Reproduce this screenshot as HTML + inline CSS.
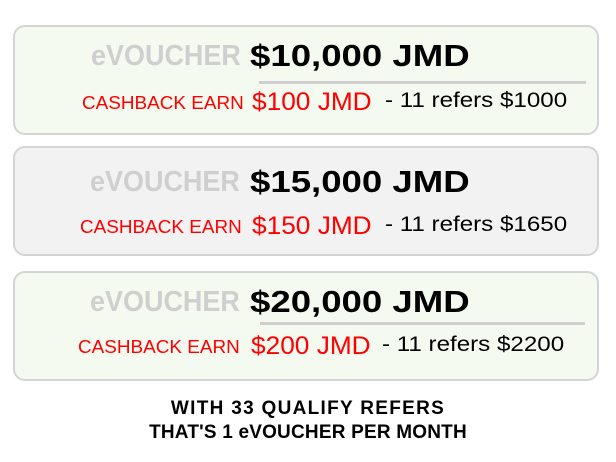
<!DOCTYPE html>
<html><head><meta charset="utf-8"><style>
body{margin:0;width:616px;height:462px;background:#fff;font-family:"Liberation Sans",sans-serif;position:relative;overflow:hidden}
.box{position:absolute;left:13px;width:586px;height:110px;border:2px solid #d4d4d4;border-radius:12px;box-sizing:border-box}
.g{background:#f4faef}.gr{background:#f2f2f2}
.t{position:absolute;white-space:nowrap;transform-origin:left top}
.ev{color:#cfcfcf;font-size:29px;font-weight:bold;-webkit-text-stroke:0;transform:scaleX(0.93)}
.amt{color:#000;font-size:31px;font-weight:bold;transform:scaleX(1.18)}
.cb{color:#f00;font-size:18px;transform:scaleX(1.05)}
.ca{color:#f00;font-size:25px;transform:scaleX(1.05)}
.rf{color:#000;font-size:21px;transform:scaleX(1.15)}
.ln{position:absolute;height:3px;background:#cfcfcf}
.ft{position:absolute;left:0;width:616px;text-align:center;font-weight:bold;font-size:19px;color:#000}
</style></head><body>
<div class="box g" style="top:25px"></div>
<div class="t ev" style="left:91px;top:40px">eVOUCHER</div>
<div class="t amt" style="left:250px;top:38px">$10,000 JMD</div>
<div class="ln" style="left:259px;top:81px;width:327px"></div>
<div class="t cb" style="left:82px;top:93px">CASHBACK EARN</div>
<div class="t ca" style="left:252px;top:88px">$100 JMD</div>
<div class="t rf" style="left:385px;top:89px">- 11 refers $1000</div>

<div class="box gr" style="top:146px"></div>
<div class="t ev" style="left:90px;top:166px">eVOUCHER</div>
<div class="t amt" style="left:250px;top:164px">$15,000 JMD</div>
<div class="t cb" style="left:80px;top:217px">CASHBACK EARN</div>
<div class="t ca" style="left:252px;top:212px">$150 JMD</div>
<div class="t rf" style="left:385px;top:213px">- 11 refers $1650</div>

<div class="box g" style="top:271px"></div>
<div class="t ev" style="left:90px;top:286px">eVOUCHER</div>
<div class="t amt" style="left:250px;top:284px">$20,000 JMD</div>
<div class="ln" style="left:260px;top:322px;width:325px"></div>
<div class="t cb" style="left:78px;top:337px">CASHBACK EARN</div>
<div class="t ca" style="left:251px;top:332px">$200 JMD</div>
<div class="t rf" style="left:382px;top:333px">- 11 refers $2200</div>

<div class="ft" style="top:398px;letter-spacing:1.3px">WITH 33 QUALIFY REFERS</div>
<div class="ft" style="top:422px;letter-spacing:0.2px">THAT'S 1 eVOUCHER PER MONTH</div>
</body></html>
